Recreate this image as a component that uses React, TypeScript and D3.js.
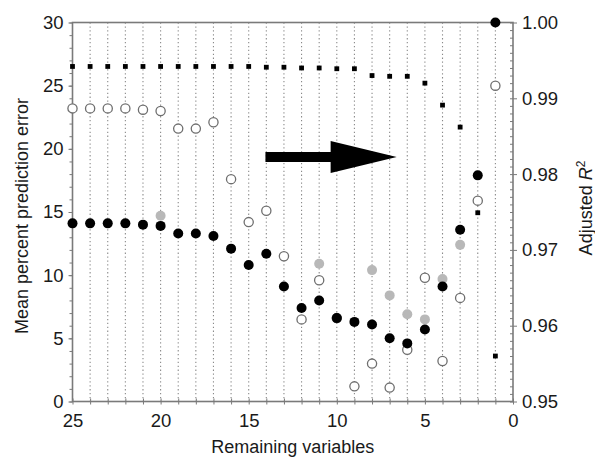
import React, { useRef, useEffect } from 'react';
import * as d3 from 'd3';

// remaining variables, 25 down to 1
const remaining = [25, 24, 23, 22, 21, 20, 19, 18, 17, 16, 15, 14, 13, 12, 11, 10, 9, 8, 7, 6, 5, 4, 3, 2, 1];

// mean percent prediction error, black markers
const errBlack = [14.1, 14.1, 14.1, 14.1, 14.0, 13.9, 13.3, 13.3, 13.1, 12.1, 10.8, 11.7, 9.1, 7.4, 8.0, 6.6, 6.3, 6.1, 5.0, 4.6, 5.7, 9.1, 13.6, 17.9, 30.0];

// mean percent prediction error, open markers
const errOpen = [23.2, 23.2, 23.2, 23.2, 23.1, 23.0, 21.6, 21.6, 22.1, 17.6, 14.2, 15.1, 11.5, 6.5, 9.6, 6.6, 1.2, 3.0, 1.1, 4.1, 9.8, 3.2, 8.2, 15.9, 25.0];

// grey markers (only the ones visible)
const greyX = [20, 11, 8, 7, 6, 5, 4, 3];
const greyErr = [14.7, 10.9, 10.4, 8.4, 6.9, 6.5, 9.7, 12.4];

// adjusted R^2 (right axis), small squares
const adjR2 = [0.9942, 0.9942, 0.9942, 0.9942, 0.9942, 0.9942, 0.9942, 0.9942, 0.9942, 0.9942, 0.9942, 0.9941, 0.9941, 0.9940, 0.9940, 0.9939, 0.9939, 0.9930, 0.9929, 0.9929, 0.9920, 0.9891, 0.9862, 0.9749, 0.9560];

const xTicks = [25, 20, 15, 10, 5, 0];
const leftTicks = [0, 5, 10, 15, 20, 25, 30];
const rightTicks = [0.95, 0.96, 0.97, 0.98, 0.99, 1.0];

// annotation arrow, in data units
const arrowFrom = 14.05;
const arrowNeck = 10.35;
const arrowTo = 6.6;
const arrowY = 19.35;

const FONT = 'Liberation Sans, Arial, Helvetica, sans-serif';

const App = () => {
  const svgRef = useRef(null);

  useEffect(() => {
    const width = 595;
    const height = 457;
    const margin = { top: 22.5, right: 82, bottom: 55.5, left: 72.5 };
    const innerWidth = width - margin.left - margin.right;
    const innerHeight = height - margin.top - margin.bottom;

    const svg = d3.select(svgRef.current);
    svg.selectAll('*').remove();
    svg.attr('width', width).attr('height', height);

    const g = svg.append('g').attr('transform', `translate(${margin.left},${margin.top})`);

    const x = d3.scaleLinear().domain([25, 0]).range([0, innerWidth]);
    const yL = d3.scaleLinear().domain([0, 30]).range([innerHeight, 0]);
    const yR = d3.scaleLinear().domain([0.95, 1.0]).range([innerHeight, 0]);

    const axisColor = '#7a7a7a';

    // dotted verticals at each integer
    g.append('g')
      .selectAll('line')
      .data(d3.range(1, 25))
      .join('line')
      .attr('x1', d => x(d)).attr('x2', d => x(d))
      .attr('y1', 0).attr('y2', innerHeight)
      .attr('stroke', '#8a8a8a')
      .attr('stroke-width', 1.1)
      .attr('stroke-dasharray', '1.3,2.6');

    // frame
    g.append('rect')
      .attr('width', innerWidth).attr('height', innerHeight)
      .attr('fill', 'none').attr('stroke', axisColor).attr('stroke-width', 1.6);

    // left axis
    const leftMinor = g.append('g').call(d3.axisLeft(yL).tickValues(d3.range(0, 31)).tickSize(3).tickFormat(''));
    const leftMajor = g.append('g').call(d3.axisLeft(yL).tickValues(leftTicks).tickSize(4).tickPadding(5));

    // right axis
    const rightMinor = g.append('g').attr('transform', `translate(${innerWidth},0)`)
      .call(d3.axisRight(yR).tickValues(d3.range(0, 51).map(i => 0.95 + i * 0.001)).tickSize(-3).tickFormat(''));
    const rightMajor = g.append('g').attr('transform', `translate(${innerWidth},0)`)
      .call(d3.axisRight(yR).tickValues(rightTicks).tickSize(4).tickPadding(5).tickFormat(d3.format('.2f')));

    // bottom axis
    const bottom = g.append('g').attr('transform', `translate(0,${innerHeight})`)
      .call(d3.axisBottom(x).tickValues(d3.range(0, 26)).tickSize(3).tickFormat(''));
    bottom.selectAll('line').attr('y1', -3);
    const bottomLabels = g.append('g').attr('transform', `translate(0,${innerHeight})`)
      .call(d3.axisBottom(x).tickValues(xTicks).tickSize(0).tickPadding(12).tickFormat(d3.format('d')));

    [leftMinor, leftMajor, rightMinor, rightMajor, bottom, bottomLabels].forEach(a => {
      a.select('.domain').remove();
      a.selectAll('line').attr('stroke', axisColor).attr('stroke-width', 1);
      a.selectAll('text').attr('font-family', FONT).attr('font-size', 18.5).attr('fill', '#1a1a1a');
    });

    // open circles
    g.append('g')
      .selectAll('circle')
      .data(remaining)
      .join('circle')
      .attr('cx', d => x(d))
      .attr('cy', (d, i) => yL(errOpen[i]))
      .attr('r', 4.6)
      .attr('fill', '#ffffff')
      .attr('stroke', '#6e6e6e')
      .attr('stroke-width', 1.3);

    // grey circles
    g.append('g')
      .selectAll('circle')
      .data(greyX)
      .join('circle')
      .attr('cx', d => x(d))
      .attr('cy', (d, i) => yL(greyErr[i]))
      .attr('r', 5)
      .attr('fill', '#b8b8b8');

    // black circles
    g.append('g')
      .selectAll('circle')
      .data(remaining)
      .join('circle')
      .attr('cx', d => x(d))
      .attr('cy', (d, i) => yL(errBlack[i]))
      .attr('r', 5)
      .attr('fill', '#000000');

    // R^2 squares
    g.append('g')
      .selectAll('rect')
      .data(remaining)
      .join('rect')
      .attr('x', d => x(d) - 2.4)
      .attr('y', (d, i) => yR(adjR2[i]) - 2.4)
      .attr('width', 4.8)
      .attr('height', 4.8)
      .attr('fill', '#000000');

    // arrow
    const sh = yL(arrowY) - yL(arrowY + 0.4);
    const hh = yL(arrowY) - yL(arrowY + 1.27);
    const ay = yL(arrowY);
    const arrowPts = [
      [x(arrowFrom), ay - sh], [x(arrowNeck), ay - sh], [x(arrowNeck), ay - hh],
      [x(arrowTo), ay], [x(arrowNeck), ay + hh], [x(arrowNeck), ay + sh], [x(arrowFrom), ay + sh]
    ];
    g.append('path')
      .attr('d', d3.line()(arrowPts) + 'Z')
      .attr('fill', '#000000');

    // axis titles
    svg.append('text')
      .attr('transform', `translate(28,${margin.top + innerHeight / 2 + 4}) rotate(-90)`)
      .attr('text-anchor', 'middle')
      .attr('font-family', FONT).attr('font-size', 18).attr('fill', '#1a1a1a')
      .text('Mean percent prediction error');

    svg.append('text')
      .attr('x', margin.left + innerWidth / 2)
      .attr('y', 453)
      .attr('text-anchor', 'middle')
      .attr('font-family', FONT).attr('font-size', 18).attr('fill', '#1a1a1a')
      .text('Remaining variables');

    const rt = svg.append('text')
      .attr('transform', `translate(592,208) rotate(-90)`)
      .attr('text-anchor', 'middle')
      .attr('font-family', FONT).attr('font-size', 18).attr('fill', '#1a1a1a');
    rt.append('tspan').text('Adjusted ');
    rt.append('tspan').attr('font-style', 'italic').text('R');
    rt.append('tspan').attr('font-size', 12).attr('dy', -7).text('2');
  }, []);

  return (
    <div style={{ position: 'absolute', left: 0, top: 0 }}>
      <svg ref={svgRef} style={{ display: 'block', background: '#ffffff' }}></svg>
    </div>
  );
};

export default App;
